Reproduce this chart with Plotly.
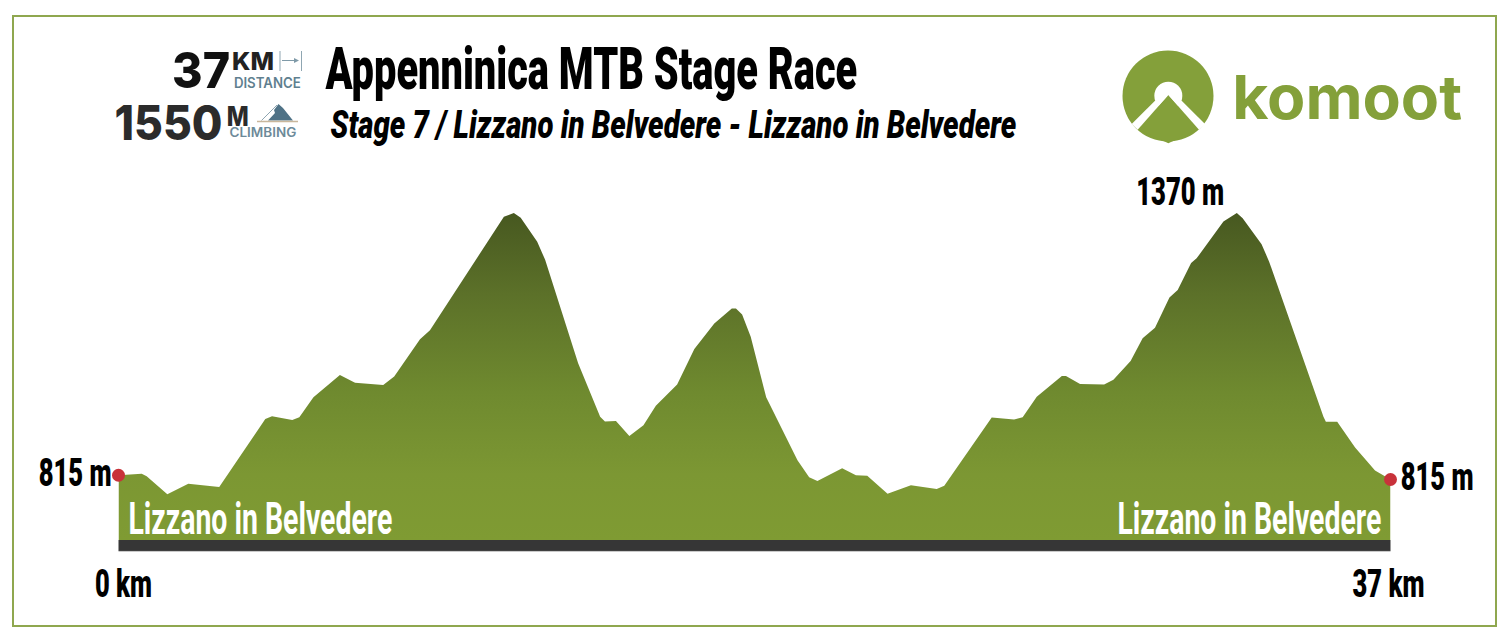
import json
import plotly.graph_objects as go

W, H = 1509, 642

distance_km = [0, 0.675, 0.82, 1.42, 2.03, 2.93, 4.27, 4.465, 5.055, 5.26, 5.67, 6.44, 6.88, 7.70, 8.02, 8.77, 9.06,
               11.21, 11.50, 11.70, 12.18, 12.41, 13.37, 14.01, 14.15, 14.47, 14.86, 15.27, 15.63, 16.25, 16.75, 17.33,
               17.84, 17.96, 18.14, 18.39, 18.84, 19.75, 20.09, 20.33, 21.05, 21.45, 21.78, 22.37, 23.05, 23.80, 24.02,
               25.40, 26.05, 26.30, 26.71, 27.44, 27.56, 27.97, 28.67, 28.94, 29.44, 29.79, 30.15, 30.57, 30.81, 31.20,
               31.36, 32.14, 32.53, 32.70, 33.25, 33.47, 35.05, 35.12, 35.45, 35.97, 36.55, 37]
elevation_m = [815, 818, 813, 775, 797, 790, 934, 940, 932, 938, 980, 1027, 1011, 1006, 1024, 1103, 1122,
               1362, 1370, 1360, 1309, 1271, 1052, 939, 929, 930, 898, 921, 962, 1007, 1082, 1136,
               1168, 1168, 1155, 1108, 980, 847, 811, 803, 830, 815, 814, 776, 794, 786, 793,
               937, 933, 938, 981, 1025, 1025, 1008, 1007, 1017, 1057, 1105, 1127, 1191, 1207, 1264,
               1274, 1352, 1370, 1359, 1304, 1267, 939, 928, 928, 874, 825, 806]
end_km = [0, 37]
end_m = [815, 806]

TITLE = "Appenninica MTB Stage Race"
SUBTITLE = "Stage 7 / Lizzano in Belvedere - Lizzano in Belvedere"
PLACE = "Lizzano in Belvedere"

def X(p): return p / W
def Y(p): return 1 - p / H

NARROW = "Roboto"
SANS = "Inter"
GREEN = "#84a03a"

fig = go.Figure()
fig.add_trace(go.Scatter(
    x=distance_km, y=elevation_m, mode="lines", line=dict(width=0), fill="tozeroy",
    fillgradient=dict(type="vertical", start=678, stop=1370,
                      colorscale=[[0, "#7f9b33"], [0.2, "#7c9733"], [0.45, "#6f8a2f"], [0.75, "#5c7129"], [1, "#475820"]]),
    hoverinfo="skip", showlegend=False))
fig.add_trace(go.Scatter(
    x=end_km, y=end_m, mode="markers", marker=dict(size=13, color="#c8323a"),
    cliponaxis=False, hoverinfo="skip", showlegend=False))

def rect(x0, y0, x1, y1, **kw):
    fig.add_shape(type="rect", xref="paper", yref="paper", x0=X(x0), x1=X(x1), y0=Y(y0), y1=Y(y1), **kw)

def poly(points, color):
    path = "M" + " L".join(f"{X(a):.5f},{Y(b):.5f}" for a, b in points) + " Z"
    fig.add_shape(type="path", xref="paper", yref="paper", path=path, fillcolor=color, line=dict(width=0))

def seg(x0, y0, x1, y1, color, w=1):
    fig.add_shape(type="line", xref="paper", yref="paper", x0=X(x0), x1=X(x1), y0=Y(y0), y1=Y(y1),
                  line=dict(color=color, width=w))

def circ(cx, cy, r, color):
    fig.add_shape(type="circle", xref="paper", yref="paper", x0=X(cx - r), x1=X(cx + r),
                  y0=Y(cy + r), y1=Y(cy - r), fillcolor=color, line=dict(width=0))

# frame and base bar
rect(13, 16, 1496, 626, line=dict(color="#8fa74f", width=2), fillcolor="rgba(0,0,0,0)")
rect(118.5, 540, 1390.5, 551, fillcolor="#363636", line=dict(width=0))
seg(118.5, 551.4, 1390.5, 551.4, "#b5b5b5", 0.8)

# logo
z = lambda a, b: (1100 + a / 3, 30 + b / 3)
circ(1168, 96, 45.5, GREEN)
circ(*z(205, 197), 14, "#ffffff")
poly([z(205, 195), z(113, 297), z(205, 340), z(297, 297)], GREEN)
poly([z(165, 212), z(95, 282), z(113, 299), z(205, 195)], "#ffffff")
poly([z(245, 212), z(315, 282), z(297, 299), z(205, 195)], "#ffffff")

# distance icon
seg(280, 51, 280, 71, "#8fa6b2")
seg(301.5, 51, 301.5, 71, "#8fa6b2")
seg(282, 60.5, 298, 60.5, "#7f9aa8")
poly([(299, 60.5), (294, 58), (294, 63)], "#7f9aa8")
# climbing icon
poly([(278.5, 104), (283, 108), (293, 120.5), (268, 120.5), (275, 113), (274, 110)], "#4f7286")
seg(261.5, 120.5, 277, 105, "#8fa6b2")
seg(257, 121.5, 298, 121.5, "#c9b79c", 1.5)

widths = {}

def label(text, x0, x1, y, size, color="#000000", font=NARROW, weight=900, italic=False):
    widths[text] = x1 - x0
    fig.add_annotation(xref="paper", yref="paper", x=X((x0 + x1) / 2), y=Y(y), text=text, showarrow=False,
                       xanchor="center", yanchor="middle", borderpad=0,
                       font=dict(family=font, size=size, color=color, weight=weight,
                                 style="italic" if italic else "normal"))

label(TITLE, 325, 857, 69, 60)
label(SUBTITLE, 330, 1016, 125, 38, italic=True)
label("37", 172, 230, 70.5, 50, "#111111", SANS, 800)
label("KM", 232, 274, 61, 25, "#222222", SANS, 800)
label("DISTANCE", 234, 301, 82.8, 14, "#5f7f8f", SANS, 600)
label("1550", 114, 222, 122, 48, "#2b2b2b", SANS, 800)
label("M", 227, 249, 116.5, 27, "#2b2b2b", SANS, 800)
label("CLIMBING", 229, 296, 132.5, 12.5, "#6d8a99", SANS, 600)
label("komoot", 1232, 1462, 97, 61, GREEN, SANS, 700)
label("1370 m", 1136, 1224, 192, 38)
label("815 m", 38, 111, 473, 38)
label("815 m", 1400, 1473, 477, 38)
label("0 km", 95, 152, 584, 38)
label("37 km", 1352, 1424, 584, 38)
label(PLACE, 128, 392, 519, 44, "#ffffff", weight=700)
label(PLACE, 1117, 1381, 519, 44, "#ffffff", weight=700)

fig.update_layout(
    width=W, height=H, margin=dict(l=0, r=0, t=0, b=0),
    paper_bgcolor="#ffffff", plot_bgcolor="rgba(0,0,0,0)", showlegend=False,
    xaxis=dict(domain=[118.5 / W, 1390.5 / W], range=[0, 37], visible=False, fixedrange=True),
    yaxis=dict(domain=[1 - 540 / H, 1 - 213 / H], range=[678, 1370], visible=False, fixedrange=True),
)
post = """
document.body.style.margin='0';
var W = %s;
document.querySelectorAll('.annotation-text').forEach(function(t){
  var w = W[t.textContent];
  if (!w) return;
  var s = w / t.getComputedTextLength();
  var x = parseFloat(t.getAttribute('x')) || 0;
  t.setAttribute('transform', 'translate(' + (x * (1 - s)) + ',0) scale(' + s + ',1)');
});
""" % json.dumps(widths)
fig.write_html("out.html", config=dict(displayModeBar=False), post_script=post)
